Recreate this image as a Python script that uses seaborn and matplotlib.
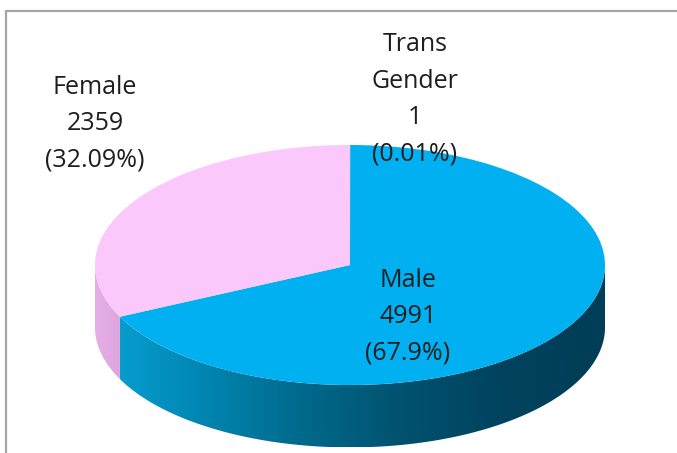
import matplotlib
matplotlib.use("Agg")
import matplotlib.pyplot as plt
import seaborn as sns
import numpy as np
from matplotlib.colors import LinearSegmentedColormap
from matplotlib.patches import Polygon
from matplotlib.lines import Line2D

# Datos del gráfico (orden de Excel: empieza arriba y gira en sentido horario)
categorias = ["Trans\nGender", "Male", "Female"]
valores = [1, 4991, 2359]
colores_cara = ["#00B0F0", "#00B0F0", "#FAC8FA"]

sns.set_theme(style="white")
plt.rcParams["font.family"] = ["Open Sans", "DejaVu Sans"]

fig = plt.figure(figsize=(6.77, 4.53), dpi=100)
ax = fig.add_axes([0, 0, 1, 1])

# Escala: 1 unidad en x = 255 px, 1 unidad en y = 120 px (pie aplanado)
cx, cy = 350, 188
sx, sy = 255, 120
xlim = (-cx / sx, (677 - cx) / sx)
ylim = (-cy / sy, (453 - cy) / sy)
profundidad = 0.52

total = sum(valores)
fracciones = [v / total for v in valores]

# Cara superior del pastel
wedges, _ = ax.pie(valores, colors=colores_cara, startangle=90,
                   counterclock=False, radius=1, center=(0, 0), frame=True,
                   wedgeprops=dict(linewidth=0, zorder=3))

# Pared lateral visible (mitad delantera, de 180° a 360°)
angulos = []
a = 90.0
for f in fracciones:
    angulos.append((a - f * 360, a))
    a -= f * 360


def pared(t1, t2):
    t = np.radians(np.linspace(t1, t2, 120))
    arriba = np.column_stack([np.cos(t), np.sin(t)])
    abajo = np.column_stack([np.cos(t[::-1]), np.sin(t[::-1]) - profundidad])
    return np.vstack([arriba, abajo])


cmap_azul = LinearSegmentedColormap.from_list(
    "lado", ["#0AA3D6", "#0087B4", "#006A8C", "#00526F", "#00435E", "#003D56"])
cmap_rosa = LinearSegmentedColormap.from_list("lado_rosa", ["#E6AEE6", "#D9A0D9"])
cmaps = [cmap_azul, cmap_azul, cmap_rosa]

gradiente = np.linspace(0, 1, 256).reshape(1, -1)
for (t1, t2), cm in zip(angulos, cmaps):
    lo, hi = max(t1, -180), min(t2, 0)
    if lo >= hi:
        continue
    poly = Polygon(pared(lo, hi), closed=True, facecolor="none",
                   edgecolor="none", transform=ax.transData)
    ax.add_patch(poly)
    ext = [-1.0, 1.0, -1 - profundidad, 0.1] if cm is cmap_azul else [-1.0, -0.85, -1 - profundidad, 0.1]
    im = ax.imshow(gradiente, cmap=cm, aspect="auto", zorder=1,
                   extent=ext, interpolation="bicubic")
    im.set_clip_path(poly)

# Etiquetas de datos
pos_etiquetas = [(0.255, 1.38), (0.227, -0.43), (-1.0, 1.18)]
for cat, v, f, (x, y) in zip(categorias, valores, fracciones, pos_etiquetas):
    ax.text(x, y, f"{cat}\n{v}\n({round(f * 100, 2):g}%)", ha="center",
            va="center", fontsize=18, color="#1E1E1E", linespacing=1.6,
            zorder=5)

ax.set_xlim(*xlim)
ax.set_ylim(*ylim)
ax.set_aspect("auto")
ax.axis("off")

# Marco del área del gráfico (cortado a la derecha y abajo)
borde = "#A6A6A6"
fig.add_artist(Line2D([6 / 677, 6 / 677], [0, 1 - 11 / 453], color=borde, lw=1.6))
fig.add_artist(Line2D([6 / 677, 1], [1 - 11 / 453, 1 - 11 / 453], color=borde, lw=1.6))

fig.savefig("out.png", dpi=100, facecolor="white")
